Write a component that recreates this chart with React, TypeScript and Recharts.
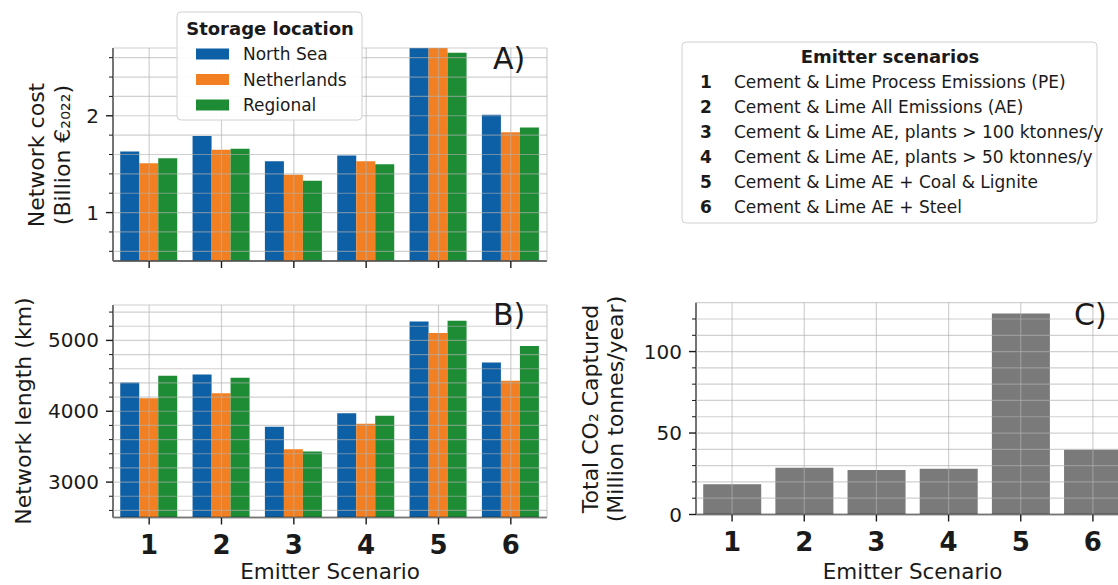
import { BarChart, Bar, XAxis, YAxis, CartesianGrid } from "recharts";

const scenarios = ["1", "2", "3", "4", "5", "6"];
const storageLocations = ["North Sea", "Netherlands", "Regional"];
const storageColors = ["#0d5fa6", "#f28022", "#1e8c35"];

// A) network cost, billion €2022
const costNorthSea = [1.63, 1.79, 1.53, 1.59, 2.7, 2.01];
const costNetherlands = [1.51, 1.65, 1.39, 1.53, 2.7, 1.83];
const costRegional = [1.56, 1.66, 1.33, 1.5, 2.65, 1.88];

// B) network length, km
const lengthNorthSea = [4406, 4519, 3782, 3972, 5267, 4689];
const lengthNetherlands = [4184, 4255, 3465, 3824, 5106, 4430];
const lengthRegional = [4500, 4472, 3433, 3938, 5277, 4922];

// C) total CO2 captured, Mt/year
const co2Captured = [18.5, 28.7, 27.3, 28.1, 123.3, 39.7];

const costTicks = [0.6, 0.8, 1, 1.2, 1.4, 1.6, 1.8, 2, 2.2, 2.4, 2.6];
const costMajorTicks = [1, 2];
const lengthTicks = [2600, 2800, 3000, 3200, 3400, 3600, 3800, 4000, 4200, 4400, 4600, 4800, 5000, 5200, 5400];
const lengthMajorTicks = [3000, 4000, 5000];
const co2Ticks = [0, 10, 20, 30, 40, 50, 60, 70, 80, 90, 100, 110, 120];
const co2MajorTicks = [0, 50, 100];

const emitterScenarios = [
  "Cement & Lime Process Emissions (PE)",
  "Cement & Lime All Emissions (AE)",
  "Cement & Lime AE, plants > 100 ktonnes/y",
  "Cement & Lime AE, plants > 50 ktonnes/y",
  "Cement & Lime AE + Coal & Lignite",
  "Cement & Lime AE + Steel",
];

const costData = scenarios.map((s, i) => ({
  scenario: s,
  northSea: costNorthSea[i],
  netherlands: costNetherlands[i],
  regional: costRegional[i],
}));
const lengthData = scenarios.map((s, i) => ({
  scenario: s,
  northSea: lengthNorthSea[i],
  netherlands: lengthNetherlands[i],
  regional: lengthRegional[i],
}));
const co2Data = scenarios.map((s, i) => ({ scenario: s, co2: co2Captured[i] }));

const FONT = "'DejaVu Sans', sans-serif";
const INK = "#1a1a1a";
const seriesKeys = ["northSea", "netherlands", "regional"];

function YTick(props: any) {
  const { x, y, payload, majors } = props;
  const major = majors.includes(payload.value);
  return (
    <g>
      <line x1={x} x2={x - (major ? 7 : 4)} y1={y} y2={y} stroke={INK} strokeWidth={major ? 1.4 : 1} />
      {major && (
        <text x={x - 14} y={y} textAnchor="end" dominantBaseline="central" fontSize={20} fill={INK} fontFamily={FONT}>
          {payload.value}
        </text>
      )}
    </g>
  );
}

function XTick(props: any) {
  const { x, y, payload, showLabel } = props;
  return (
    <g>
      <line x1={x} x2={x} y1={y} y2={y + 7} stroke={INK} strokeWidth={1.4} />
      {showLabel && (
        <text x={x} y={y + 36} textAnchor="middle" fontSize={26} fontWeight="bold" fill={INK} fontFamily={FONT}>
          {payload.value}
        </text>
      )}
    </g>
  );
}

function rotatedLabel(lines: string[], cx: number[], cy: number) {
  return () => (
    <g>
      {lines.map((t, i) => (
        <text
          key={i}
          transform={`translate(${cx[i]},${cy}) rotate(-90)`}
          textAnchor="middle"
          dominantBaseline="central"
          fontSize={22}
          fill={INK}
          fontFamily={FONT}
        >
          {t}
        </text>
      ))}
    </g>
  );
}

const gridProps = { stroke: "#b0b0b0", strokeOpacity: 0.6, strokeWidth: 1.2 };
const xTitle = { value: "Emitter Scenario", position: "insideBottom", offset: 6, fontSize: 21.5, fill: INK, fontFamily: FONT } as any;

export default function App() {
  return (
    <div
      style={{
        position: "absolute",
        left: 0,
        top: 0,
        width: 1118,
        height: 585,
        overflow: "hidden",
        background: "#fff",
        fontFamily: FONT,
      }}
    >
      {/* A) network cost */}
      <div style={{ position: "absolute", left: 0, top: 0 }}>
        <BarChart
          width={560}
          height={290}
          data={costData}
          margin={{ top: 48, right: 13, left: 0, bottom: 0 }}
          barGap={0}
          barCategoryGap="10%"
        >
          <XAxis
            dataKey="scenario"
            height={29}
            interval={0}
            tickSize={0}
            tickMargin={0}
            tickLine={false}
            axisLine={{ stroke: INK, strokeWidth: 1.5 }}
            tick={(p: any) => <XTick {...p} showLabel={false} />}
          />
          <YAxis
            width={113}
            domain={[0.5, 2.7]}
            allowDataOverflow
            ticks={costTicks}
            interval={0}
            tickSize={0}
            tickMargin={0}
            tickLine={false}
            axisLine={{ stroke: INK, strokeWidth: 1.5 }}
            tick={(p: any) => <YTick {...p} majors={costMajorTicks} />}
            label={{ content: rotatedLabel(["Network cost", "(Billion €₂₀₂₂)"], [36, 62], 155) }}
          />
          {seriesKeys.map((k, i) => (
            <Bar key={k} dataKey={k} name={storageLocations[i]} fill={storageColors[i]} isAnimationActive={false} />
          ))}
          <CartesianGrid {...gridProps} zIndex={600} />
        </BarChart>
      </div>

      {/* B) network length */}
      <div style={{ position: "absolute", left: 0, top: 280 }}>
        <BarChart
          width={560}
          height={305}
          data={lengthData}
          margin={{ top: 25, right: 13, left: 0, bottom: 0 }}
          barGap={0}
          barCategoryGap="10%"
        >
          <XAxis
            dataKey="scenario"
            height={67.5}
            interval={0}
            tickSize={0}
            tickMargin={0}
            tickLine={false}
            axisLine={{ stroke: INK, strokeWidth: 1.5 }}
            tick={(p: any) => <XTick {...p} showLabel />}
            label={xTitle}
          />
          <YAxis
            width={113}
            domain={[2500, 5500]}
            allowDataOverflow
            ticks={lengthTicks}
            interval={0}
            tickSize={0}
            tickMargin={0}
            tickLine={false}
            axisLine={{ stroke: INK, strokeWidth: 1.5 }}
            tick={(p: any) => <YTick {...p} majors={lengthMajorTicks} />}
            label={{ content: rotatedLabel(["Network length (km)"], [23], 131) }}
          />
          {seriesKeys.map((k, i) => (
            <Bar key={k} dataKey={k} name={storageLocations[i]} fill={storageColors[i]} isAnimationActive={false} />
          ))}
          <CartesianGrid {...gridProps} zIndex={600} />
        </BarChart>
      </div>

      {/* C) total CO2 captured */}
      <div style={{ position: "absolute", left: 560, top: 280 }}>
        <BarChart
          width={569}
          height={305}
          data={co2Data}
          margin={{ top: 22.7, right: 0, left: 0, bottom: 0 }}
          barCategoryGap="10%"
        >
          <XAxis
            dataKey="scenario"
            height={70.5}
            interval={0}
            tickSize={0}
            tickMargin={0}
            tickLine={false}
            axisLine={{ stroke: INK, strokeWidth: 1.5 }}
            tick={(p: any) => <XTick {...p} showLabel />}
            label={xTitle}
          />
          <YAxis
            width={136}
            domain={[0, 130]}
            allowDataOverflow
            ticks={co2Ticks}
            interval={0}
            tickSize={0}
            tickMargin={0}
            tickLine={false}
            axisLine={{ stroke: INK, strokeWidth: 1.5 }}
            tick={(p: any) => <YTick {...p} majors={co2MajorTicks} />}
            label={{
              content: rotatedLabel(["Total CO₂ Captured", "(Million tonnes/year)"], [30, 55], 129),
            }}
          />
          <Bar dataKey="co2" name="Total CO₂ captured" fill="#7a7a7a" isAnimationActive={false} />
          <CartesianGrid {...gridProps} zIndex={600} />
        </BarChart>
      </div>

      {/* legends and panel letters */}
      <svg
        width={1118}
        height={585}
        style={{ position: "absolute", left: 0, top: 0, pointerEvents: "none" }}
        fontFamily={FONT}
      >
        <text x={493} y={69} fontSize={30} fill={INK}>A)</text>
        <text x={493} y={325} fontSize={30} fill={INK}>B)</text>
        <text x={1074} y={325} fontSize={30} fill={INK}>C)</text>

        <rect x={177} y={12} width={185} height={108} rx={4} fill="#fff" fillOpacity={0.92} stroke="#d0d0d0" />
        <text x={270} y={28} textAnchor="middle" dominantBaseline="central" fontSize={18} fontWeight="bold" fill={INK}>
          Storage location
        </text>
        {storageLocations.map((name, i) => (
          <g key={name}>
            <rect x={196} y={54 + i * 25.5 - 5.5} width={33} height={11} fill={storageColors[i]} />
            <text x={243} y={54 + i * 25.5} dominantBaseline="central" fontSize={17} fill={INK}>
              {name}
            </text>
          </g>
        ))}

        <rect x={682} y={42} width={415} height={181} rx={4} fill="#fff" stroke="#d0d0d0" />
        <text x={890} y={56} textAnchor="middle" dominantBaseline="central" fontSize={18} fontWeight="bold" fill={INK}>
          Emitter scenarios
        </text>
        {emitterScenarios.map((t, i) => (
          <g key={t}>
            <text x={706} y={82 + i * 25} textAnchor="middle" dominantBaseline="central" fontSize={17} fontWeight="bold" fill={INK}>
              {scenarios[i]}
            </text>
            <text x={734} y={82 + i * 25} dominantBaseline="central" fontSize={17} fill={INK}>
              {t}
            </text>
          </g>
        ))}
      </svg>
    </div>
  );
}
